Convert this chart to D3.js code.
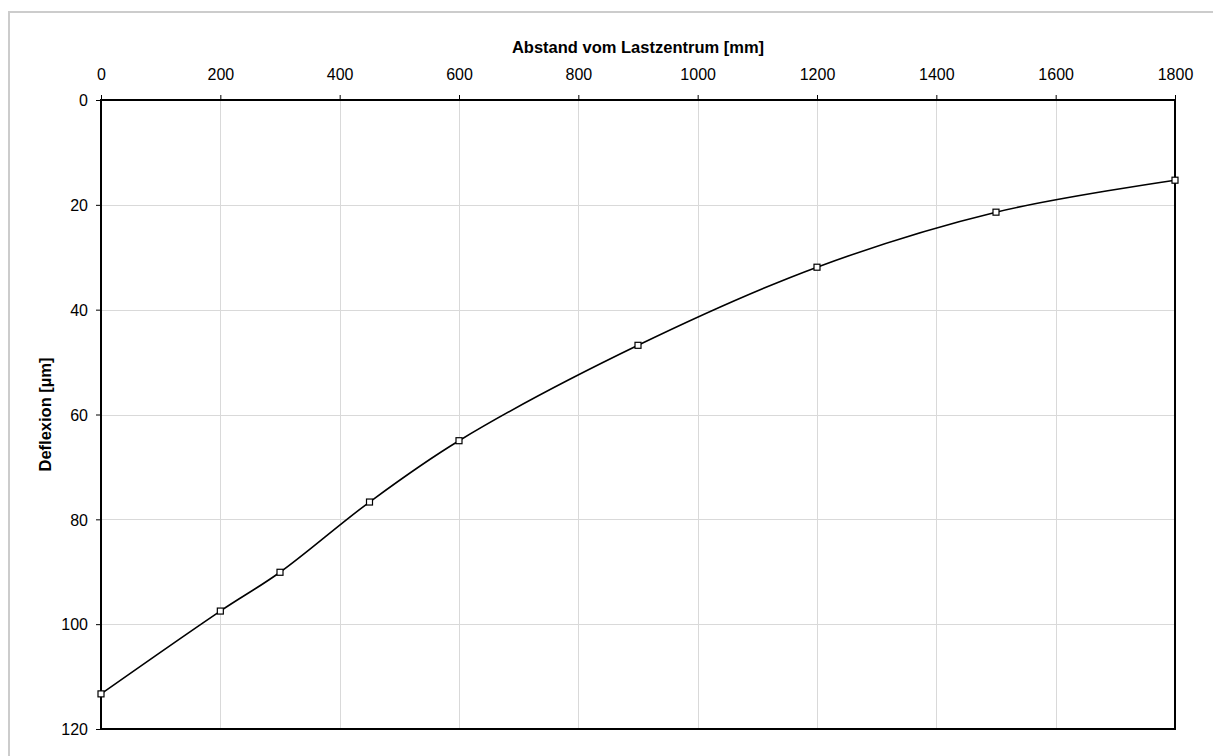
<!DOCTYPE html>
<html>
<head>
<meta charset="utf-8">
<script src="https://cdn.jsdelivr.net/npm/d3@7"></script>
<style>
  html, body { margin: 0; padding: 0; background: #fff; }
  svg { display: block; }
  text { font-family: "Liberation Sans", Arial, sans-serif; fill: #000; }
</style>
</head>
<body>
<svg id="chart" width="1213" height="756"></svg>
<script>
// Distance from load centre (mm) and measured deflection (µm)
const distances = [0, 200, 300, 450, 600, 900, 1200, 1500, 1800];
const deflections = [113.3, 97.5, 90.1, 76.7, 65.0, 46.8, 31.9, 21.4, 15.3];
const xTicks = [0, 200, 400, 600, 800, 1000, 1200, 1400, 1600, 1800];
const yTicks = [0, 20, 40, 60, 80, 100, 120];
const xTitle = "Abstand vom Lastzentrum [mm]";
const yTitle = "Deflexion [µm]";

const svg = d3.select("#chart");
const W = 1213, H = 756;
const plot = { left: 101, right: 1175, top: 100, bottom: 729 };

// Outer chart-area frame
svg.append("rect")
  .attr("x", 9).attr("y", 12)
  .attr("width", W + 20).attr("height", H + 20)
  .attr("fill", "#fff").attr("stroke", "#cccccc").attr("stroke-width", 2);

const x = d3.scaleLinear().domain([0, 1800]).range([plot.left, plot.right]);
const y = d3.scaleLinear().domain([0, 120]).range([plot.top, plot.bottom]);

// Gridlines
const grid = svg.append("g").attr("stroke", "#d9d9d9").attr("stroke-width", 1);
grid.selectAll("line.v").data(xTicks.slice(1, -1)).join("line")
  .attr("x1", d => Math.round(x(d)) + 0.5).attr("x2", d => Math.round(x(d)) + 0.5)
  .attr("y1", plot.top).attr("y2", plot.bottom);
grid.selectAll("line.h").data(yTicks.slice(1, -1)).join("line")
  .attr("y1", d => Math.round(y(d)) + 0.5).attr("y2", d => Math.round(y(d)) + 0.5)
  .attr("x1", plot.left).attr("x2", plot.right);

// Axes: x along the top, y on the left (reversed)
const xAxis = svg.append("g")
  .attr("transform", `translate(0,${plot.top})`)
  .call(d3.axisTop(x).tickValues(xTicks).tickFormat(d3.format("d")).tickSizeOuter(0).tickSize(5).tickPadding(15));
const yAxis = svg.append("g")
  .attr("transform", `translate(${plot.left},0)`)
  .call(d3.axisLeft(y).tickValues(yTicks).tickFormat(d3.format("d")).tickSizeOuter(0).tickSize(5).tickPadding(8));

[xAxis, yAxis].forEach(a => {
  a.select(".domain").remove();
  a.selectAll("line").attr("stroke", "#000").attr("stroke-width", 1);
  a.selectAll("text")
    .attr("fill", "#000")
    .style("font-family", "'Liberation Sans', Arial, sans-serif")
    .style("font-size", "16px");
});
yAxis.selectAll("text").attr("dy", "0.36em");

// Plot frame
svg.append("rect")
  .attr("x", plot.left).attr("y", plot.top)
  .attr("width", plot.right - plot.left).attr("height", plot.bottom - plot.top)
  .attr("fill", "none").attr("stroke", "#000").attr("stroke-width", 2);

// Smoothed deflection curve
const pts = distances.map((d, i) => [d, deflections[i]]);
const line = d3.line()
  .x(d => x(d[0])).y(d => y(d[1]))
  .curve(d3.curveCatmullRom.alpha(0.5));
svg.append("path")
  .attr("d", line(pts))
  .attr("fill", "none").attr("stroke", "#000").attr("stroke-width", 1.6);

// Square markers
svg.selectAll("rect.marker").data(pts).join("rect")
  .attr("class", "marker")
  .attr("x", d => x(d[0]) - 3).attr("y", d => y(d[1]) - 3)
  .attr("width", 6).attr("height", 6)
  .attr("fill", "#fff").attr("stroke", "#000").attr("stroke-width", 1.2);

// Axis titles
svg.append("text")
  .attr("x", (plot.left + plot.right) / 2).attr("y", 53)
  .attr("text-anchor", "middle")
  .style("font-size", "16.5px").style("font-weight", "bold")
  .text(xTitle);
svg.append("text")
  .attr("transform", `translate(51,${(plot.top + plot.bottom) / 2}) rotate(-90)`)
  .attr("text-anchor", "middle")
  .style("font-size", "16.5px").style("font-weight", "bold")
  .text(yTitle);
</script>
</body>
</html>
